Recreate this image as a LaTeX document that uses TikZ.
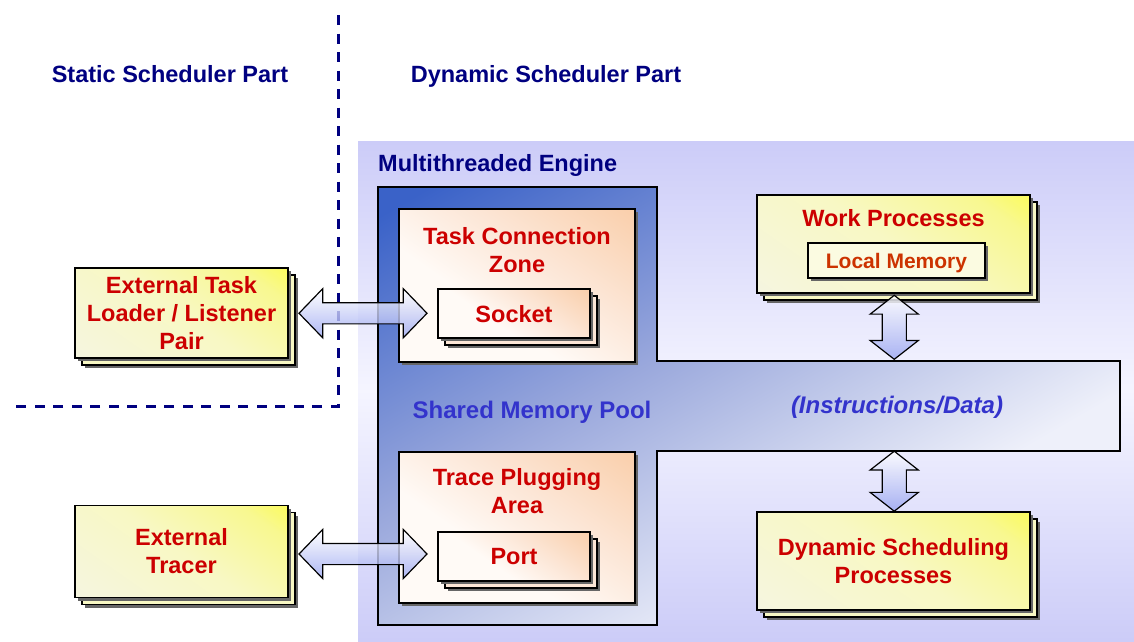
\documentclass[tikz,border=0pt]{standalone}
\usepackage{fontspec}
\setmainfont{Liberation Sans}
\usepackage{tikz}
\usetikzlibrary{positioning}
\usetikzlibrary{calc}
\usetikzlibrary{shapes.arrows}
\usetikzlibrary{shadows}
\usepackage{xcolor}
\definecolor{navy}{HTML}{000080}
\definecolor{boxred}{HTML}{CC0000}
\definecolor{memred}{HTML}{CC3300}
\definecolor{poolblue}{HTML}{3333CC}
\definecolor{lavender}{HTML}{CCCCF8}
\definecolor{engblue}{HTML}{3A62C8}
\definecolor{engmid}{HTML}{9AA8DC}
\definecolor{engpale}{HTML}{EEF0FA}
\definecolor{boxyellow}{HTML}{FFFF10}
\definecolor{hotyellow}{HTML}{F8F890}
\definecolor{midyellow}{HTML}{F8F8C4}
\definecolor{paleyellow}{HTML}{F4F4EC}
\definecolor{peach}{HTML}{F8C090}
\definecolor{midpeach}{HTML}{FCE6D6}
\definecolor{palepeach}{HTML}{FFFAF6}
\definecolor{arrowblue}{HTML}{98A4F0}
\pgfdeclarehorizontalshading{yellowfade}{100bp}{color(0bp)=(paleyellow); color(50bp)=(midyellow); color(75bp)=(hotyellow); color(100bp)=(boxyellow)}
\pgfdeclarehorizontalshading{peachfade}{100bp}{color(0bp)=(palepeach); color(40bp)=(palepeach); color(60bp)=(midpeach); color(100bp)=(peach)}
\pgfdeclarehorizontalshading{poolfade}{100bp}{color(0bp)=(engblue); color(18bp)=(engblue); color(42bp)=(engmid); color(66bp)=(engpale); color(100bp)=(engpale)}

\begin{document}
\begin{tikzpicture}[x=1pt, y=-1pt,
  redtext/.style={text=boxred, font=\fontsize{23.5}{28}\selectfont\bfseries, align=center, inner sep=0pt},
  navytext/.style={text=navy, font=\fontsize{23.5}{28}\selectfont\bfseries, inner sep=0pt},
  dropshade/.style={general shadow={fill=black!60, shadow xshift=3pt, shadow yshift=-3pt}},
  stacked/.style={
    general shadow={fill=black!60, shadow xshift=10pt, shadow yshift=-10pt},
    general shadow={fill=#1, draw=black, line width=1.2pt, shadow xshift=7pt, shadow yshift=-7pt},
    dropshade},
  yellowbox/.style={redtext, draw=black, line width=1.2pt, shade, shading=yellowfade, shading angle=55,
    stacked=midyellow},
  peachbox/.style={redtext, draw=black, line width=1.2pt, shade, shading=peachfade, shading angle=55},
  dblarrow/.style={double arrow, draw=black, line width=1.2pt, top color=white, bottom color=arrowblue,
    fill opacity=0.8, inner xsep=0pt, inner ysep=10pt, double arrow head extend=14pt, double arrow tip angle=92}
]
\useasboundingbox (0,0) rectangle (1134,641);

% engine background
\shade[top color=lavender, bottom color=lavender, middle color=white!96!blue] (358,141) rectangle (1134,641);

% static / dynamic border
\draw[navy, line width=3pt, dash pattern=on 10pt off 8.5pt] (338,15) -- (338,406) -- (10,406);
\node[navytext] (staticlbl) at (170,74) {Static Scheduler Part};
\node[navytext] (dynamiclbl) at (546,76.5) {Dynamic Scheduler Part};
\node[navytext, anchor=west] (enginelbl) at (378,165.5) {Multithreaded Engine};

% shared memory pool
\shadedraw[draw=black, line width=1.2pt, shading=poolfade, shading angle=-60]
  (378,187) -- (657,187) -- (657,361) -- (1120,361) -- (1120,451) -- (657,451) -- (657,625) -- (378,625) -- cycle;
\coordinate (armtop) at (895,361);
\coordinate (armbot) at (895,451);
\node[text=poolblue, font=\fontsize{24}{28}\selectfont\bfseries, inner sep=0pt] (poollbl) at (532,412) {Shared Memory Pool};
\node[text=poolblue, font=\fontsize{24}{28}\selectfont\bfseries\itshape, inner sep=0pt] (datalbl) at (897,407) {(Instructions/Data)};

% connection zone and tracing area
\node[peachbox, dropshade, minimum width=236pt, minimum height=153pt] (tczone) at (517,285.5) {};
\node[redtext] (tczonetitle) at ($(tczone.north)+(0,42)$) {Task Connection\\Zone};
\node[peachbox, stacked=midpeach, text depth=0pt, minimum width=152pt, minimum height=49pt] (socket) at (514,313.5) {Socket};
\node[peachbox, dropshade, minimum width=236pt, minimum height=151pt] (tparea) at (517,527.5) {};
\node[redtext] (tpareatitle) at ($(tparea.north)+(0,40)$) {Trace Plugging\\Area};
\node[peachbox, stacked=midpeach, text depth=0pt, minimum width=152pt, minimum height=49pt] (port) at (514,556.5) {Port};

% processes
\node[yellowbox, minimum width=273pt, minimum height=98pt] (workproc) at (893.5,244) {};
\node[redtext] (workproctitle) at ($(workproc.north)+(0,24)$) {Work Processes};
\node[draw=black, line width=1.2pt, fill=midyellow!50!white, dropshade, text=memred,
  font=\fontsize{21}{25}\selectfont\bfseries, text depth=0pt, minimum width=177pt, minimum height=35pt, inner sep=0pt]
  (localmem) at (896.5,260.5) {Local Memory};
\node[yellowbox, minimum width=273pt, minimum height=98pt] (dynsched) at (893.5,561) {Dynamic Scheduling\\Processes};

% external parts
\node[yellowbox, minimum width=213pt, minimum height=90pt] (loader) at (181.5,313) {External Task\\Loader / Listener\\Pair};
\node[yellowbox, minimum width=213pt, minimum height=92pt] (tracer) at (181.5,551.5) {External\\Tracer};

% exchange arrows
\node[dblarrow, minimum height=128pt] (loadarrow) at ($(loader.east)!0.5!(socket.west)$) {};
\node[dblarrow, minimum height=128pt] (tracearrow) at ($(tracer.east)!0.5!(port.west)$) {};
\node[dblarrow, rotate=90, inner ysep=11.5pt, double arrow head extend=12pt, double arrow tip angle=104,
  minimum height=64pt] (workarrow) at ($(workproc.south)!0.5!(armtop)$) {};
\node[dblarrow, rotate=90, inner ysep=11.5pt, double arrow head extend=12pt, double arrow tip angle=104,
  minimum height=60pt] (dynarrow) at ($(armbot)!0.5!(dynsched.north)$) {};
\end{tikzpicture}
\end{document}
